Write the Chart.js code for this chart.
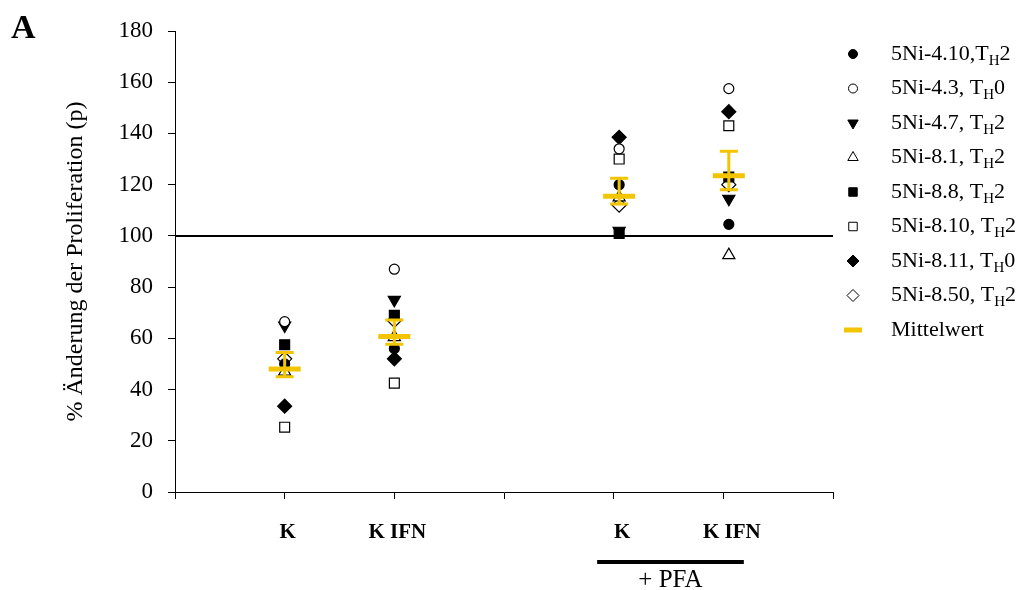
<!DOCTYPE html>
<html>
<head>
<meta charset="utf-8">
<script src="https://cdn.jsdelivr.net/npm/chart.js@4/dist/chart.umd.min.js"></script>
<style>
  html, body { margin: 0; padding: 0; background: #fff; }
  #wrap { width: 1019px; height: 590px; }
</style>
</head>
<body>
<div id="wrap"><canvas id="chart" width="1019" height="590"></canvas></div>
<script>
// group positions on the x axis and their labels
const groupX = [1, 2, 4.05, 5.05];
const groupLabels = ['K', 'K IFN', 'K', 'K IFN'];

// single clones (% change of proliferation)
const ni410 = [50, 56, 120, 104.5];
const ni43 = [66.5, 87, 134, 157.5];
const ni47 = [65, 75, 102, 114.5];
const ni81 = [47, 60.5, 115, 92.5];
const ni88 = [57.5, 69, 101, 123];
const ni810 = [25.3, 42.5, 130, 143];
const ni811 = [33.5, 52, 138.5, 148.5];
const ni850 = [52, 67, 112, 120];

// mean with error bar ends
const meanVals = [48, 60.7, 115.5, 123.5];
const errHigh = [54.5, 67.2, 122.5, 133];
const errLow = [45, 57.7, 112.5, 118];

const yTicks = [0, 20, 40, 60, 80, 100, 120, 140, 160, 180];

const serif = "'Liberation Serif', 'Times New Roman', serif";
const yellow = '#F2C500';

function pts(vals) {
  return vals.map((v, i) => ({ x: groupX[i], y: v }));
}

// label parts: [main, sub, tail]
const series = [
  { name: ['5Ni-4.10,T', 'H', '2'], data: ni410, style: 'circle', fill: true, r: 5, rot: 0 },
  { name: ['5Ni-4.3, T', 'H', '0'], data: ni43, style: 'circle', fill: false, r: 5, rot: 0 },
  { name: ['5Ni-4.7, T', 'H', '2'], data: ni47, style: 'triangle', fill: true, r: 7, rot: 180 },
  { name: ['5Ni-8.1, T', 'H', '2'], data: ni81, style: 'triangle', fill: false, r: 7, rot: 0 },
  { name: ['5Ni-8.8, T', 'H', '2'], data: ni88, style: 'rect', fill: true, r: 7, rot: 0 },
  { name: ['5Ni-8.10, T', 'H', '2'], data: ni810, style: 'rect', fill: false, r: 7, rot: 0 },
  { name: ['5Ni-8.11, T', 'H', '0'], data: ni811, style: 'rectRot', fill: true, r: 7, rot: 0 },
  { name: ['5Ni-8.50, T', 'H', '2'], data: ni850, style: 'rectRot', fill: false, r: 7, rot: 0 },
];

const datasets = series.map(s => ({
  label: s.name.join(''),
  data: pts(s.data),
  pointStyle: s.style,
  pointRadius: s.r,
  pointRotation: s.rot,
  pointBackgroundColor: s.fill ? '#000' : '#fff',
  pointBorderColor: '#000',
  pointBorderWidth: 1.2,
  showLine: false,
}));

datasets.push({
  label: 'Mittelwert',
  data: pts(meanVals),
  pointStyle: 'line',
  pointRadius: 16,
  pointBorderColor: yellow,
  pointBorderWidth: 5,
  showLine: false,
  order: -1,
});

const extras = {
  id: 'extras',
  beforeDatasetsDraw(chart) {
    const { ctx, scales: { x, y } } = chart;
    ctx.save();
    ctx.strokeStyle = '#000';
    ctx.lineWidth = 2;
    ctx.beginPath();
    ctx.moveTo(x.left, y.getPixelForValue(100));
    ctx.lineTo(x.right, y.getPixelForValue(100));
    ctx.stroke();
    ctx.restore();
  },
  afterDatasetsDraw(chart) {
    const { ctx, scales: { x, y } } = chart;
    ctx.save();
    ctx.strokeStyle = yellow;
    ctx.lineWidth = 3;
    groupX.forEach((gx, i) => {
      const px = x.getPixelForValue(gx);
      const hi = y.getPixelForValue(errHigh[i]);
      const lo = y.getPixelForValue(errLow[i]);
      ctx.beginPath();
      ctx.moveTo(px, hi); ctx.lineTo(px, lo);
      ctx.moveTo(px - 9, hi); ctx.lineTo(px + 9, hi);
      ctx.moveTo(px - 9, lo); ctx.lineTo(px + 9, lo);
      ctx.stroke();
    });
    ctx.restore();
  },
  afterDraw(chart) {
    const { ctx, scales: { x, y } } = chart;
    ctx.save();
    ctx.fillStyle = '#000';
    ctx.textBaseline = 'middle';

    // group labels under the x axis
    ctx.textAlign = 'center';
    ctx.font = 'bold 21px ' + serif;
    groupX.forEach((gx, i) => {
      ctx.fillText(groupLabels[i], x.getPixelForValue(gx) + 3, 533);
    });

    // + PFA bracket
    const p1 = x.getPixelForValue(groupX[2]) - 22;
    const p2 = x.getPixelForValue(groupX[3]) + 15;
    ctx.fillRect(p1, 560, p2 - p1, 4);
    ctx.font = '25px ' + serif;
    ctx.fillText('+ PFA', (p1 + p2) / 2, 580);

    // panel letter
    ctx.textAlign = 'left';
    ctx.textBaseline = 'alphabetic';
    ctx.font = 'bold 34px ' + serif;
    ctx.fillText('A', 11, 38);

    // legend
    const lx = 853, tx = 891, top = 54, step = 34.5;
    const items = chart.data.datasets;
    items.forEach((ds, i) => {
      const cy = top + i * step;
      if (ds.pointStyle === 'line') {
        ctx.fillStyle = yellow;
        ctx.fillRect(lx - 9, cy - 2.5, 18, 5);
      } else {
        ctx.fillStyle = ds.pointBackgroundColor;
        ctx.strokeStyle = '#000';
        ctx.lineWidth = 1;
        Chart.helpers.drawPoint(ctx, {
          pointStyle: ds.pointStyle,
          radius: ds.pointStyle === 'circle' ? 4.5 : 6,
          rotation: ds.pointRotation || 0,
          borderWidth: 1,
        }, lx, cy);
      }
      ctx.fillStyle = '#000';
      ctx.textBaseline = 'middle';
      const s = series[i];
      if (s) {
        ctx.font = '22px ' + serif;
        ctx.fillText(s.name[0], tx, cy);
        let w = ctx.measureText(s.name[0]).width;
        ctx.font = '15px ' + serif;
        ctx.fillText(s.name[1], tx + w, cy + 7);
        w += ctx.measureText(s.name[1]).width;
        ctx.font = '22px ' + serif;
        ctx.fillText(s.name[2], tx + w, cy);
      } else {
        ctx.font = '22px ' + serif;
        ctx.fillText(ds.label, tx, cy);
      }
    });
    ctx.restore();
  }
};

new Chart(document.getElementById('chart'), {
  type: 'scatter',
  data: { datasets },
  plugins: [extras],
  options: {
    responsive: false,
    animation: false,
    layout: { padding: { top: 31, right: 186, left: 0, bottom: 0 } },
    plugins: {
      legend: { display: false },
      tooltip: { enabled: false },
    },
    scales: {
      x: {
        type: 'linear',
        min: 0,
        max: 6,
        afterBuildTicks: s => { s.ticks = [0, 1, 2, 3, 4, 5, 6].map(v => ({ value: v })); },
        ticks: { display: false },
        grid: { drawOnChartArea: false, drawTicks: true, tickLength: 7, color: '#000' },
        border: { display: true, color: '#000', width: 1 },
        afterFit: s => { s.height = 98; },
      },
      y: {
        type: 'linear',
        min: 0,
        max: 180,
        afterBuildTicks: s => { s.ticks = yTicks.map(v => ({ value: v })); },
        ticks: {
          color: '#000',
          padding: 15,
          font: { family: serif, size: 23 },
        },
        grid: { drawOnChartArea: false, drawTicks: true, tickLength: 7, color: '#000' },
        border: { display: true, color: '#000', width: 1 },
        title: {
          display: true,
          text: '% Änderung der Proliferation (p)',
          color: '#000',
          font: { family: serif, size: 24 },
          padding: { top: 61, bottom: 0 },
        },
        afterFit: s => { s.width = 175; },
      },
    },
  },
});
</script>
</body>
</html>
